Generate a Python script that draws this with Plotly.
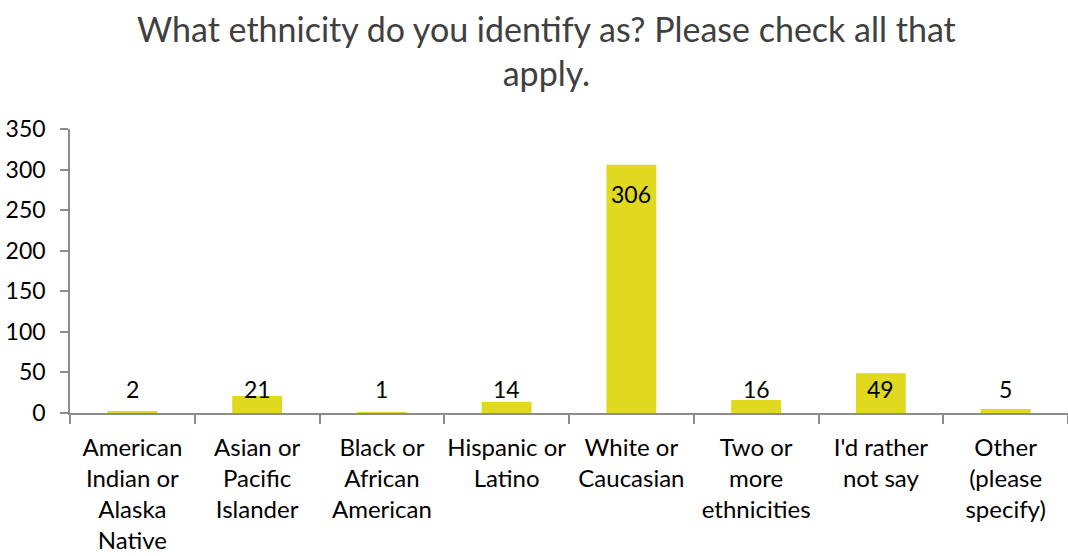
import plotly.graph_objects as go

categories = [
    "American<br>Indian or<br>Alaska<br>Native",
    "Asian or<br>Pacific<br>Islander",
    "Black or<br>African<br>American",
    "Hispanic or<br>Latino",
    "White or<br>Caucasian",
    "Two or<br>more<br>ethnicities",
    "I'd rather<br>not say",
    "Other<br>(please<br>specify)",
]
values = [2, 21, 1, 14, 306, 16, 49, 5]
y_ticks = [0, 50, 100, 150, 200, 250, 300, 350]

title_text = "What ethnicity do you identify as? Please check all that<br>apply."

FONT = "Lato"
BAR_COLOR = "rgb(225,216,32)"
AXIS_COLOR = "#8c8c8c"

fig = go.Figure()
fig.add_trace(go.Bar(
    x=categories,
    y=values,
    marker=dict(color=BAR_COLOR, line=dict(width=0)),
    width=0.4,
    hoverinfo="x+y",
))

# Data labels: "inside end" style, clamped to a minimum height above the axis
label_y = [max(v - 36, 30) for v in values]
for c, v, ly in zip(categories, values, label_y):
    fig.add_annotation(
        x=c, y=ly, text=str(v), showarrow=False,
        yanchor="middle", xanchor="center",
        font=dict(family=FONT, size=23, color="#000000"),
    )

# Chart title as a paper-anchored annotation
fig.add_annotation(
    xref="paper", yref="paper", x=0.477, y=1.275,
    xanchor="center", yanchor="middle",
    text=title_text, showarrow=False,
    font=dict(family=FONT, size=34, color="#404040"),
)

fig.update_layout(
    width=1068, height=556,
    margin=dict(l=70, r=0, t=129, b=143, autoexpand=False),
    paper_bgcolor="white", plot_bgcolor="white",
    showlegend=False,
    font=dict(family=FONT, size=24, color="#000000"),
    bargap=0.6,
)
fig.update_xaxes(
    showline=True, linecolor=AXIS_COLOR, linewidth=1.5,
    ticks="outside", tickson="boundaries", ticklen=9,
    tickcolor=AXIS_COLOR, tickwidth=1.5,
    tickfont=dict(family=FONT, size=24, color="#000000"),
    tickangle=0, automargin=False,
    ticklabelstandoff=12,
    showgrid=False, zeroline=False,
)
fig.update_yaxes(
    range=[0, 350], tickvals=y_ticks,
    showline=True, linecolor=AXIS_COLOR, linewidth=1.5,
    ticks="outside", ticklen=8, tickcolor=AXIS_COLOR, tickwidth=1.5,
    tickfont=dict(family=FONT, size=23, color="#000000"),
    ticklabelstandoff=10, automargin=False,
    showgrid=False, zeroline=False,
)

fig.write_html(
    "out.html",
    config={"displayModeBar": False},
    post_script="document.body.style.margin='0';document.body.style.overflow='hidden';",
)
